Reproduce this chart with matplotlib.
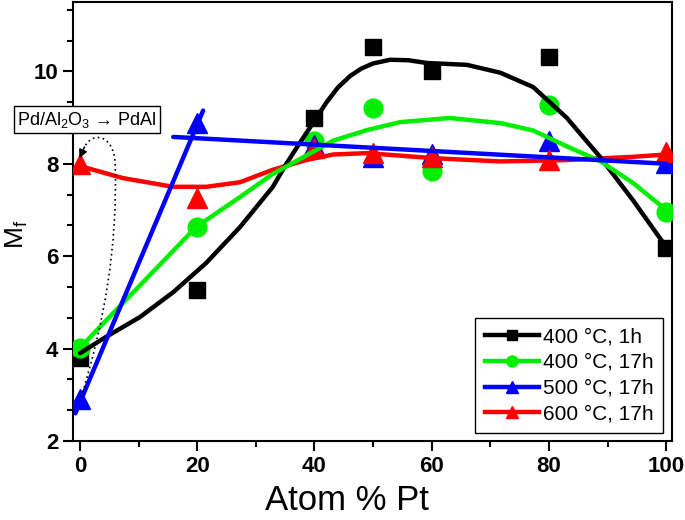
import matplotlib
matplotlib.use("Agg")
import matplotlib.pyplot as plt
from matplotlib.lines import Line2D
from matplotlib.path import Path
from matplotlib.patches import PathPatch
from matplotlib.ticker import MultipleLocator, AutoMinorLocator

plt.rcParams['font.family'] = ['Liberation Sans', 'DejaVu Sans']
plt.rcParams['mathtext.fontset'] = 'custom'
plt.rcParams['mathtext.rm'] = 'Liberation Sans'
plt.rcParams['mathtext.it'] = 'Liberation Sans:italic'
plt.rcParams['mathtext.bf'] = 'Liberation Sans:bold'

# ---- data ----
atom_pt = [0, 20, 40, 50, 60, 80, 100]
mf_400_1h = [3.8, 5.27, 9.0, 10.53, 10.0, 10.3, 6.18]
mf_400_17h = [4.02, 6.64, 8.49, 9.21, 7.84, 9.27, 6.96]
mf_500_17h = [2.9, 8.88, 8.41, 8.15, 8.2, 8.5, 8.02]
mf_600_17h = [8.0, 7.26, 8.35, 8.23, 8.15, 8.08, 8.25]

labels = ['400 \u00b0C, 1h', '400 \u00b0C, 17h', '500 \u00b0C, 17h', '600 \u00b0C, 17h']

# fitted guide curves
fit_400_1h_x = [0, 4.4, 10.2, 15.9, 21.5, 27.3, 32.9, 35.2, 37.5, 40, 42, 44, 46.1, 48, 50, 52.9,
                56, 59.2, 66, 71.7, 77.3, 83, 88.7, 94.4, 100]
fit_400_1h_y = [3.9, 4.25, 4.68, 5.22, 5.85, 6.63, 7.5, 8.0, 8.45, 8.93, 9.32, 9.65, 9.9, 10.06, 10.17, 10.25,
                10.24, 10.18, 10.14, 9.97, 9.66, 9.0, 8.15, 7.2, 6.2]
fit_400_17h_x = [0, 19.8, 27.3, 32.9, 37.5, 43.2, 49, 54.6, 63.1, 71.7, 77.3, 83, 88.7, 94.4, 100]
fit_400_17h_y = [4.02, 6.63, 7.28, 7.78, 8.1, 8.5, 8.73, 8.9, 8.99, 8.88, 8.72, 8.38, 8.06, 7.58, 7.0]
fit_500_17h_a_x = [-0.8, 21]
fit_500_17h_a_y = [2.6, 9.15]
fit_500_17h_b_x = [15.9, 100]
fit_500_17h_b_y = [8.58, 8.0]
fit_600_17h_x = [0, 7.3, 15.9, 21.5, 27.3, 32.9, 38.6, 43.2, 49, 60.3, 71.7, 83, 94.4, 100]
fit_600_17h_y = [7.95, 7.69, 7.5, 7.5, 7.6, 7.87, 8.08, 8.2, 8.23, 8.12, 8.05, 8.08, 8.15, 8.2]

fig = plt.figure(figsize=(6.85, 5.2), dpi=100)
ax = fig.add_axes([73/685, 1 - 441/520, 599/685, 439/520])

black, green, blue, red = 'black', '#00ee00', '#0000ff', '#ff0000'

# markers
ax.plot(atom_pt, mf_400_1h, ls='none', marker='s', ms=12, color=black, zorder=3)
ax.plot(atom_pt, mf_400_17h, ls='none', marker='o', ms=13.5, color=green, zorder=3)
ax.plot(atom_pt, mf_500_17h, ls='none', marker='^', ms=14, color=blue, zorder=3)
ax.plot(atom_pt, mf_600_17h, ls='none', marker='^', ms=14, color=red, zorder=3)

# guide curves
lw = 3.2
ax.plot(fit_600_17h_x, fit_600_17h_y, color=red, lw=lw, zorder=4, solid_capstyle='round')
ax.plot(fit_400_1h_x, fit_400_1h_y, color=black, lw=lw, zorder=4, solid_capstyle='round')
ax.plot(fit_400_17h_x, fit_400_17h_y, color=green, lw=lw, zorder=4, solid_capstyle='round')
ax.plot(fit_500_17h_a_x, fit_500_17h_a_y, color=blue, lw=lw, zorder=5, solid_capstyle='round')
ax.plot(fit_500_17h_b_x, fit_500_17h_b_y, color=blue, lw=lw, zorder=5, solid_capstyle='round')

# dotted transformation loop
verts = [(0.2, 2.95), (4.2, 4.6), (6.4, 6.2), (6.0, 8.0),
         (5.8, 8.62), (2.2, 8.72), (0.75, 8.36)]
codes = [Path.MOVETO, Path.CURVE4, Path.CURVE4, Path.CURVE4,
         Path.CURVE4, Path.CURVE4, Path.CURVE4]
ax.add_patch(PathPatch(Path(verts, codes), fill=False, ls=(0, (1, 2)), lw=1.2,
                       color='black', zorder=6, clip_on=False))
ax.annotate('', xy=(-0.1, 8.12), xytext=(0.75, 8.36),
            arrowprops=dict(arrowstyle='-|>', color='black', lw=1.2,
                            mutation_scale=12, shrinkA=0, shrinkB=0),
            zorder=7, annotation_clip=False)

ax.text(1.2, 8.95, 'Pd/Al$\\mathregular{_2}$O$\\mathregular{_3}$ \u2192 PdAl', ha='center', va='center',
        fontsize=13, zorder=8,
        bbox=dict(boxstyle='square,pad=0.2', fc='white', ec='black', lw=1))

ax.set_xlim(-1.2, 101)
ax.set_ylim(2, 11.5)
ax.xaxis.set_major_locator(MultipleLocator(20))
ax.xaxis.set_minor_locator(MultipleLocator(10))
ax.yaxis.set_major_locator(MultipleLocator(2))
ax.yaxis.set_minor_locator(AutoMinorLocator(3))
ax.tick_params(which='both', direction='out', top=False, right=False, width=1.5)
ax.tick_params(which='major', length=7, labelsize=16)
ax.tick_params(which='minor', length=4)
for lab in ax.get_xticklabels() + ax.get_yticklabels():
    lab.set_fontweight('bold')
for sp in ax.spines.values():
    sp.set_linewidth(1.5)

ax.set_xlabel('Atom % Pt', fontsize=25)
ax.xaxis.set_label_coords(0.457, -0.098)
ax.set_ylabel('M$\\mathregular{_f}$', fontsize=19)
ax.yaxis.set_label_coords(-0.072, 0.47)

handles = [
    Line2D([], [], color=black, lw=lw, marker='s', ms=7),
    Line2D([], [], color=green, lw=lw, marker='o', ms=8),
    Line2D([], [], color=blue, lw=lw, marker='^', ms=8),
    Line2D([], [], color=red, lw=lw, marker='^', ms=8),
]
leg = ax.legend(handles, labels, loc='lower right', bbox_to_anchor=(0.985, 0.018),
                borderaxespad=0, fontsize=15, frameon=True, fancybox=False,
                edgecolor='black', framealpha=1, handlelength=2.6,
                handletextpad=0.2, labelspacing=0.33, borderpad=0.45)
leg.get_frame().set_linewidth(1.0)
leg.set_zorder(10)

fig.savefig('out.png', dpi=100)
